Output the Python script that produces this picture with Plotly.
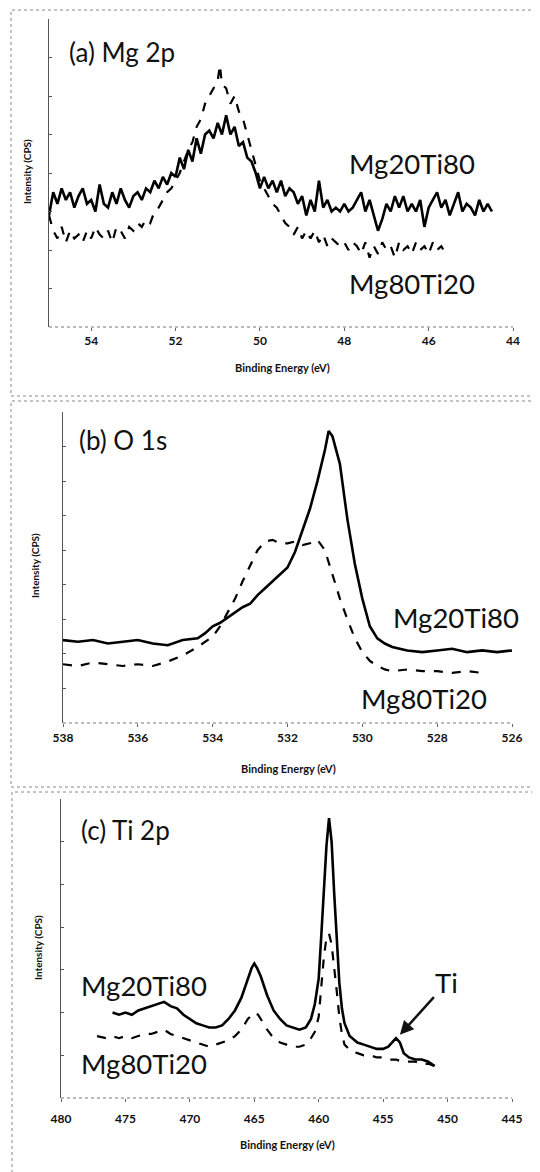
import plotly.graph_objects as go

# ---------------- data ----------------
# (a) Mg 2p
mg_a_x_solid = [55.0, 54.9, 54.8, 54.7, 54.6, 54.5, 54.4, 54.3, 54.2, 54.1, 54.0, 53.9, 53.8, 53.7, 53.6,
                53.5, 53.4, 53.3, 53.2, 53.1, 53.0, 52.9, 52.8, 52.7, 52.6, 52.5, 52.4, 52.3, 52.2, 52.1,
                52.0, 51.9, 51.8, 51.7, 51.6, 51.5, 51.4, 51.3, 51.2, 51.1, 51.0, 50.9, 50.8, 50.7, 50.6,
                50.5, 50.4, 50.3, 50.2, 50.1, 50.0, 49.9, 49.8, 49.7, 49.6, 49.5, 49.4, 49.3, 49.2, 49.1,
                49.0, 48.9, 48.8, 48.7, 48.6, 48.5, 48.4, 48.3, 48.2, 48.1, 48.0, 47.9, 47.8, 47.7, 47.6,
                47.5, 47.4, 47.3, 47.2, 47.1, 47.0, 46.9, 46.8, 46.7, 46.6, 46.5, 46.4, 46.3, 46.2, 46.1,
                46.0, 45.9, 45.8, 45.7, 45.6, 45.5, 45.4, 45.3, 45.2, 45.1, 45.0, 44.9, 44.8, 44.7, 44.6,
                44.5]
mg_a_y_solid = [2.9, 3.5, 3.2, 3.6, 3.3, 3.5, 3.1, 3.4, 3.6, 3.2, 3.3, 3.0, 3.7, 3.2, 3.1,
                3.5, 3.2, 3.6, 3.3, 3.1, 3.4, 3.5, 3.3, 3.6, 3.5, 3.8, 3.6, 3.9, 3.7, 4.0,
                3.9, 4.4, 4.1, 4.6, 4.3, 4.9, 4.5, 5.0, 5.1, 4.9, 5.3, 5.0, 5.5, 5.0, 5.2,
                4.7, 4.8, 4.4, 4.3, 4.0, 3.6, 3.9, 3.6, 3.8, 3.5, 3.8, 3.4, 3.6, 3.5, 3.2,
                3.4, 2.9, 3.3, 3.0, 3.8, 3.1, 3.3, 3.0, 3.1, 3.0, 3.2, 3.0, 3.1, 3.3, 3.5,
                3.0, 3.3, 2.9, 2.5, 2.8, 3.2, 3.0, 3.4, 3.1, 3.4, 3.0, 3.2, 3.0, 3.3, 2.6,
                3.1, 3.3, 3.5, 3.1, 3.3, 2.9, 3.2, 3.5, 3.0, 3.2, 3.1, 2.9, 3.3, 3.0, 3.2,
                3.0]
mg_a_x_dash = [55.0, 54.9, 54.8, 54.7, 54.6, 54.5, 54.4, 54.3, 54.2, 54.1, 54.0, 53.9, 53.8, 53.7, 53.6,
               53.5, 53.4, 53.3, 53.2, 53.1, 53.0, 52.9, 52.8, 52.7, 52.6, 52.5, 52.4, 52.3, 52.2, 52.1,
               52.0, 51.9, 51.8, 51.7, 51.6, 51.5, 51.4, 51.3, 51.2, 51.1, 51.0, 50.95, 50.9, 50.8, 50.7,
               50.6, 50.5, 50.4, 50.3, 50.2, 50.1, 50.0, 49.9, 49.8, 49.7, 49.6, 49.5, 49.4, 49.3, 49.2,
               49.1, 49.0, 48.9, 48.8, 48.7, 48.6, 48.5, 48.4, 48.3, 48.2, 48.1, 48.0, 47.9, 47.8, 47.7,
               47.6, 47.5, 47.4, 47.3, 47.2, 47.1, 47.0, 46.9, 46.8, 46.7, 46.6, 46.5, 46.4, 46.3, 46.2,
               46.1, 46.0, 45.9, 45.8, 45.7, 45.6]
mg_a_y_dash = [2.9, 2.5, 2.3, 2.6, 2.2, 2.5, 2.3, 2.4, 2.2, 2.5, 2.3, 2.6, 2.4, 2.3, 2.5,
               2.2, 2.6, 2.5, 2.3, 2.6, 2.5, 2.7, 2.6, 2.8, 2.7, 3.0, 3.1, 3.3, 3.5, 3.6,
               3.8, 4.0, 4.3, 4.6, 4.8, 5.2, 5.4, 5.8, 6.0, 6.2, 6.4, 6.8, 6.3, 6.2, 5.8,
               6.0, 5.6, 5.4, 5.0, 4.6, 4.2, 3.8, 3.6, 3.4, 3.2, 3.1, 2.9, 2.7, 2.6, 2.4,
               2.6, 2.3, 2.5, 2.3, 2.5, 2.2, 2.4, 2.1, 2.3, 2.2, 2.1, 2.2, 2.0, 2.2, 2.1,
               1.9, 2.2, 1.8, 2.1, 1.9, 2.2, 2.0, 2.1, 1.8, 2.2, 2.0, 2.1, 1.9, 2.2, 2.0,
               2.1, 1.9, 2.2, 2.0, 2.1, 1.9]

# (b) O 1s
o_b_x_solid = [538.0, 537.6, 537.2, 536.8, 536.4, 536.0, 535.6, 535.2, 534.8, 534.4, 534.2, 534.0,
               533.8, 533.6, 533.4, 533.2, 533.0, 532.8, 532.6, 532.4, 532.2, 532.0, 531.8, 531.6,
               531.4, 531.2, 531.0, 530.9, 530.8, 530.6, 530.4, 530.2, 530.0, 529.8, 529.6, 529.4,
               529.2, 528.8, 528.4, 528.0, 527.6, 527.2, 526.8, 526.4, 526.0]
o_b_y_solid = [2.4, 2.35, 2.4, 2.3, 2.35, 2.4, 2.3, 2.25, 2.4, 2.45, 2.6, 2.8,
               2.9, 3.05, 3.2, 3.35, 3.45, 3.7, 3.9, 4.1, 4.3, 4.5, 4.95, 5.6,
               6.2, 7.0, 7.9, 8.45, 8.3, 7.5, 5.9, 4.6, 3.6, 2.8, 2.45, 2.3,
               2.2, 2.1, 2.05, 2.1, 2.15, 2.05, 2.1, 2.05, 2.1]
o_b_x_dash = [538.0, 537.6, 537.2, 536.8, 536.4, 536.0, 535.6, 535.2, 534.8, 534.4, 534.0, 533.8,
              533.6, 533.4, 533.2, 533.0, 532.8, 532.6, 532.4, 532.2, 532.0, 531.8, 531.6, 531.4,
              531.2, 531.0, 530.8, 530.6, 530.4, 530.2, 530.0, 529.8, 529.6, 529.4, 529.2, 528.8,
              528.4, 528.0, 527.6, 527.2, 526.8]
o_b_y_dash = [1.7, 1.65, 1.75, 1.7, 1.65, 1.7, 1.65, 1.78, 1.95, 2.2, 2.5, 2.8,
              3.2, 3.6, 4.1, 4.55, 5.0, 5.25, 5.3, 5.2, 5.2, 5.25, 5.15, 5.2,
              5.3, 5.0, 4.3, 3.6, 3.0, 2.45, 2.05, 1.8, 1.65, 1.55, 1.5, 1.55,
              1.5, 1.5, 1.45, 1.5, 1.45]

# (c) Ti 2p
ti_c_x_solid = [476.0, 475.5, 475.0, 474.5, 474.0, 473.5, 473.0, 472.5, 472.0, 471.5, 471.0, 470.5,
                470.0, 469.5, 469.0, 468.5, 468.0, 467.5, 467.0, 466.5, 466.0, 465.5, 465.2, 465.0,
                464.8, 464.5, 464.0, 463.5, 463.0, 462.5, 462.0, 461.5, 461.0, 460.6, 460.3, 460.0,
                459.8, 459.6, 459.4, 459.2, 459.0, 458.8, 458.6, 458.4, 458.2, 458.0, 457.6, 457.0,
                456.5, 456.0, 455.5, 455.0, 454.6, 454.3, 454.0, 453.7, 453.4, 453.0, 452.5, 452.0,
                451.5, 451.0]
ti_c_y_solid = [2.0, 1.95, 2.0, 1.95, 2.05, 2.1, 2.15, 2.2, 2.25, 2.15, 2.1, 1.95,
                1.85, 1.75, 1.7, 1.65, 1.65, 1.7, 1.85, 2.05, 2.35, 2.8, 3.05, 3.15,
                3.05, 2.85, 2.4, 2.05, 1.85, 1.7, 1.65, 1.6, 1.65, 1.85, 2.2, 2.8,
                3.8, 4.9, 5.9, 6.55, 6.0, 4.8, 3.6, 2.7, 2.1, 1.75, 1.45, 1.3,
                1.25, 1.2, 1.15, 1.15, 1.2, 1.3, 1.4, 1.3, 1.05, 0.95, 0.9, 0.9,
                0.85, 0.75]
ti_c_x_dash = [477.2, 476.5, 476.0, 475.5, 475.0, 474.5, 474.0, 473.5, 473.0, 472.5, 472.0, 471.5,
               471.0, 470.5, 470.0, 469.5, 469.0, 468.5, 468.0, 467.5, 467.0, 466.5, 466.0, 465.5,
               465.2, 465.0, 464.7, 464.5, 464.0, 463.5, 463.0, 462.5, 462.0, 461.5, 461.0, 460.6,
               460.3, 460.0, 459.8, 459.6, 459.4, 459.2, 459.0, 458.8, 458.6, 458.4, 458.2, 458.0,
               457.5, 457.0, 456.5, 456.0, 455.5, 455.0, 454.5, 454.0, 453.5, 453.0, 452.5, 452.0,
               451.5, 451.0]
ti_c_y_dash = [1.45, 1.4, 1.45, 1.4, 1.45, 1.4, 1.45, 1.5, 1.5, 1.55, 1.6, 1.5,
               1.45, 1.4, 1.35, 1.3, 1.25, 1.2, 1.25, 1.3, 1.35, 1.45, 1.6, 1.85,
               1.95, 2.0, 1.95, 1.85, 1.6, 1.4, 1.3, 1.25, 1.2, 1.2, 1.25, 1.4,
               1.55, 1.9, 2.6, 3.3, 3.75, 3.85, 3.6, 3.1, 2.5, 1.9, 1.5, 1.25,
               1.1, 1.05, 1.0, 1.0, 0.95, 0.95, 0.9, 0.9, 0.85, 0.85, 0.85, 0.8,
               0.8, 0.75]

x_ranges = [[55, 44], [538, 526], [480, 445]]
y_ranges = [[0, 8], [0, 9], [0, 7]]
x_dticks = [2, 2, 5]
panel_titles = ["(a) Mg 2p", "(b) O 1s", "(c) Ti 2p"]
series_names = ["Mg20Ti80", "Mg80Ti20"]
x_title = "Binding Energy (eV)"
y_title = "Intensity (CPS)"

# ---------------- layout helpers ----------------
W, H = 540, 1172
FONT = "Lato, 'Open Sans', sans-serif"
PAGE_OFFSET = 8  # the page places the figure 8 px in from the top-left corner

def px(x):
    return (x - PAGE_OFFSET) / W

def py(y):
    return 1 - (y - PAGE_OFFSET) / H

# plot-area pixel boxes (left, right, top, bottom) as seen in the picture
boxes = [(49, 513, 19, 327), (63, 512, 412, 723), (61, 512, 799, 1098)]
standoffs = [0, 1, 7]

fig = go.Figure()

data_sets = [
    (mg_a_x_solid, mg_a_y_solid, mg_a_x_dash, mg_a_y_dash),
    (o_b_x_solid, o_b_y_solid, o_b_x_dash, o_b_y_dash),
    (ti_c_x_solid, ti_c_y_solid, ti_c_x_dash, ti_c_y_dash),
]

for i, (xs, ys, xd, yd) in enumerate(data_sets):
    sfx = "" if i == 0 else str(i + 1)
    fig.add_trace(go.Scatter(x=xs, y=ys, mode="lines", name=series_names[0],
                             line=dict(color="black", width=2.6),
                             xaxis="x" + sfx, yaxis="y" + sfx, showlegend=False))
    fig.add_trace(go.Scatter(x=xd, y=yd, mode="lines", name=series_names[1],
                             line=dict(color="black", width=2.2, dash="dash"),
                             xaxis="x" + sfx, yaxis="y" + sfx, showlegend=False))

layout = dict(width=W, height=H, margin=dict(l=0, r=0, t=0, b=0, pad=0, autoexpand=False),
              autosize=False,
              paper_bgcolor="white", plot_bgcolor="white", showlegend=False)

for i, (l, r, t, b) in enumerate(boxes):
    sfx = "" if i == 0 else str(i + 1)
    layout["xaxis" + sfx] = dict(
        domain=[px(l), px(r)], range=x_ranges[i], anchor="y" + sfx,
        dtick=x_dticks[i], tick0=0, showgrid=False, zeroline=False, showline=False,
        automargin=False,
        ticks="outside", ticklen=3, tickcolor="#666", tickwidth=1,
        ticklabelstandoff=standoffs[i],
        tickfont=dict(family=FONT, size=12, color="#111", weight="bold"))
    layout["yaxis" + sfx] = dict(
        domain=[py(b), py(t)], range=y_ranges[i], anchor="x" + sfx,
        automargin=False,
        dtick=1, showgrid=False, zeroline=False, showline=True, linecolor="#555", linewidth=1,
        ticks="inside", ticklen=3, tickcolor="#555", showticklabels=False)

fig.update_layout(**layout)

shapes = []
# dotted x axis lines
for i in range(3):
    sfx = "" if i == 0 else str(i + 1)
    shapes.append(dict(type="line", xref="x" + sfx + " domain", yref="y" + sfx + " domain",
                       x0=0, x1=1, y0=0, y1=0, line=dict(color="#777", width=1.2, dash="dot")))
# panel frames
frames = [(11, 570, 10, 396), (11, 570, 401, 787), (12, 570, 792, 1200)]
for (l, r, t, b) in frames:
    shapes.append(dict(type="rect", xref="paper", yref="paper",
                       x0=px(l), x1=px(r), y0=py(b), y1=py(t),
                       line=dict(color="#888", width=1, dash="dot")))
fig.update_layout(shapes=shapes)

ann = []
# axis titles
ytitle_pos = [(27, 172), (35, 566), (38, 948)]
xtitle_pos = [(282, 367), (288, 768), (287, 1144)]
for i in range(3):
    ann.append(dict(text=y_title, xref="paper", yref="paper", x=px(ytitle_pos[i][0]), y=py(ytitle_pos[i][1]),
                    textangle=-90, showarrow=False, xanchor="center", yanchor="middle",
                    font=dict(family=FONT, size=10, color="#111", weight="bold")))
    ann.append(dict(text=x_title, xref="paper", yref="paper", x=px(xtitle_pos[i][0]), y=py(xtitle_pos[i][1]),
                    showarrow=False, xanchor="center", yanchor="middle",
                    font=dict(family=FONT, size=11, color="#111", weight="bold")))

# panel titles
title_pos = [(67, 52), (77, 440), (79, 830)]
for i in range(3):
    ann.append(dict(text=panel_titles[i], xref="paper", yref="paper",
                    x=px(title_pos[i][0]), y=py(title_pos[i][1]),
                    showarrow=False, xanchor="left", yanchor="middle",
                    font=dict(family=FONT, size=26, color="#111")))

# series labels
label_pos = [
    ((347, 163), (347, 284)),
    ((391, 617), (359, 698)),
    ((79, 985), (79, 1063)),
]
for i in range(3):
    for j in range(2):
        ann.append(dict(text=series_names[j], xref="paper", yref="paper",
                        x=px(label_pos[i][j][0]), y=py(label_pos[i][j][1]),
                        showarrow=False, xanchor="left", yanchor="middle",
                        font=dict(family=FONT, size=27.5, color="#111")))

# Ti metal arrow
ann.append(dict(text="Ti", xref="x3", yref="y3", x=453.7, y=1.48,
                ax=47, ay=-52, showarrow=True, arrowhead=2, arrowsize=1.1, arrowwidth=2.5,
                arrowcolor="#111", font=dict(family=FONT, size=27.5, color="#111")))

fig.update_layout(annotations=ann)

fig.write_html("out.html")
